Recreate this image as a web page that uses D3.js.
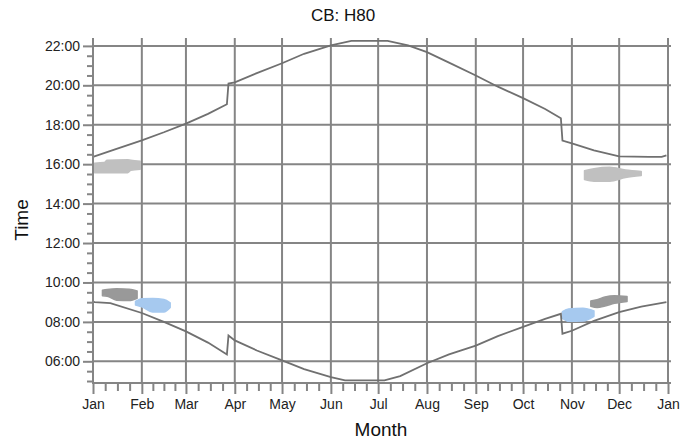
<!DOCTYPE html>
<html><head><meta charset="utf-8">
<script src="https://cdn.jsdelivr.net/npm/d3@7"></script>
<style>body{margin:0;background:#fff}svg{display:block;font-family:"Liberation Sans",Arial,sans-serif}</style>
</head><body><svg id="c" width="697" height="443"></svg>
<script>
// ---- data ----
const monthLabels = ["Jan","Feb","Mar","Apr","May","Jun","Jul","Aug","Sep","Oct","Nov","Dec","Jan"];
const yTickLabels = ["06:00","08:00","10:00","12:00","14:00","16:00","18:00","20:00","22:00"];
// sunset line (date MM-DD, time in hours)
const sunsetDates = ["01-01","01-15","02-01","02-15","03-01","03-15","03-27","03-28","04-01","04-15","05-01","05-15","06-01","06-14","07-07","07-20","08-01","08-15","09-01","09-15","10-01","10-15","10-25","10-26","11-01","11-15","12-01","12-20","12-28","12-31"];
const sunsetTimes = [16.37,16.75,17.21,17.62,18.06,18.55,19.04,20.09,20.15,20.62,21.12,21.6,22.03,22.25,22.25,22.02,21.68,21.15,20.5,19.93,19.35,18.8,18.33,17.2,17.06,16.7,16.4,16.37,16.37,16.45];
// sunrise line
const sunriseDates = ["01-01","01-02","01-12","02-01","02-15","03-01","03-15","03-27","03-28","04-01","04-15","05-01","05-15","06-01","06-10","07-05","07-15","08-01","08-15","09-01","09-15","10-01","10-15","10-25","10-26","11-01","11-15","12-01","12-15","12-31"];
const sunriseTimes = [9.05,9.0,8.95,8.45,8.0,7.52,6.95,6.35,7.31,7.06,6.55,6.05,5.6,5.2,5.03,5.03,5.25,5.9,6.35,6.8,7.28,7.75,8.15,8.41,7.4,7.55,8.05,8.5,8.78,9.0];
// blobs: date, top time, bottom time
const blobJanSunsetDates = ["01-02","01-08","01-10","01-23","01-25","01-31"];
const blobJanSunsetTop =   [16.05,16.08,16.2,16.22,16.2,16.15];
const blobJanSunsetBot =   [15.57,15.57,15.57,15.57,15.69,15.74];
const blobJanSunriseDates = ["01-07","01-10","01-16","01-24","01-29"];
const blobJanSunriseTop =   [9.6,9.64,9.68,9.66,9.57];
const blobJanSunriseBot =   [9.32,9.3,9.1,9.08,9.2];
const blobFebSunriseDates = ["01-28","02-01","02-08","02-15","02-19"];
const blobFebSunriseTop =   [9.04,9.17,9.18,9.13,8.97];
const blobFebSunriseBot =   [8.86,8.76,8.5,8.5,8.73];
const blobDecSunsetDates = ["11-09","11-15","11-25","12-05","12-15"];
const blobDecSunsetTop =   [15.67,15.77,15.84,15.7,15.63];
const blobDecSunsetBot =   [15.22,15.14,15.14,15.32,15.42];
const blobNovSunriseDates = ["10-26","10-30","11-08","11-15"];
const blobNovSunriseTop =   [8.52,8.66,8.69,8.56];
const blobNovSunriseBot =   [8.18,8.03,8.04,8.28];
const blobDecSunriseDates = ["11-13","11-17","11-22","11-28","12-06"];
const blobDecSunriseTop =   [9.06,9.13,9.26,9.32,9.29];
const blobDecSunriseBot =   [8.79,8.73,8.81,8.94,9.04];

// ---- chart ----
const svg = d3.select("#c");
const parse = s => new Date(2001, +s.slice(0,2)-1, +s.slice(3,5));
const x = d3.scaleTime().domain([new Date(2001,0,1), new Date(2002,0,1)]).range([93, 668]);
const y = d3.scaleLinear().domain([4.9, 22.4]).range([383, 38]);
const gridC = "#858585";

const months = d3.timeMonth.range(new Date(2001,0,1), new Date(2002,0,2));
const yMajors = d3.range(6, 23, 2);

// grid
svg.append("g").selectAll("line").data(months.slice(1)).join("line")
  .attr("x1", d=>x(d)).attr("x2", d=>x(d)).attr("y1", y(22.4)).attr("y2", y(4.9))
  .attr("stroke", gridC).attr("stroke-width", 2);
svg.append("g").selectAll("line").data(yMajors).join("line")
  .attr("x1", x.range()[0]).attr("x2", 671).attr("y1", d=>y(d)).attr("y2", d=>y(d))
  .attr("stroke", gridC).attr("stroke-width", 2);

// blobs
function blob(dates, top, bot, color){
  const data = dates.map((d,i)=>({d:parse(d), t:top[i], b:bot[i]}));
  svg.append("path").datum(data)
    .attr("d", d3.area().x(p=>x(p.d)).y0(p=>y(p.b)).y1(p=>y(p.t)).curve(d3.curveMonotoneX))
    .attr("fill", color).attr("stroke", color).attr("stroke-width", 1.5).attr("stroke-linejoin","round");
}
blob(blobJanSunsetDates, blobJanSunsetTop, blobJanSunsetBot, "#c0c0c0");
blob(blobDecSunsetDates, blobDecSunsetTop, blobDecSunsetBot, "#c0c0c0");
blob(blobJanSunriseDates, blobJanSunriseTop, blobJanSunriseBot, "#999999");
blob(blobDecSunriseDates, blobDecSunriseTop, blobDecSunriseBot, "#999999");
blob(blobFebSunriseDates, blobFebSunriseTop, blobFebSunriseBot, "#a6c9ef");
blob(blobNovSunriseDates, blobNovSunriseTop, blobNovSunriseBot, "#a6c9ef");

// lines
const line = d3.line().x(p=>x(p.d)).y(p=>y(p.t));
function drawLine(dates, times){
  svg.append("path").datum(dates.map((d,i)=>({d:parse(d), t:times[i]})))
    .attr("d", line).attr("fill","none").attr("stroke","#707070").attr("stroke-width",1.8);
}
drawLine(sunsetDates, sunsetTimes);
drawLine(sunriseDates, sunriseTimes);

// axes
const fmtMonth = d => monthLabels[d.getFullYear()===2002 ? 12 : d.getMonth()];
const minorX = [];
months.slice(0,12).forEach((m,i)=>{
  const n = months[i+1];
  for(let k=1;k<4;k++) minorX.push(new Date(+m + (n-m)*k/4));
});
const xAxis = svg.append("g").attr("transform","translate(0,383)")
  .call(d3.axisBottom(x).tickValues(minorX).tickSize(8).tickFormat(""));
const xMaj = svg.append("g").attr("transform","translate(0,383)")
  .call(d3.axisBottom(x).tickValues(months).tickSize(11).tickPadding(5).tickFormat(fmtMonth));
[xAxis, xMaj].forEach(g=>{
  g.select(".domain").attr("stroke", gridC).attr("stroke-width",2).attr("d","M"+(x.range()[0]-1)+",0H671");
  g.selectAll(".tick line").attr("stroke", gridC).attr("stroke-width",2);
  g.selectAll("text").attr("fill","#222").attr("font-size",14).attr("font-family","Liberation Sans, Arial, sans-serif");
});

const yAxisMinor = svg.append("g").attr("transform","translate(93,0)")
  .call(d3.axisLeft(y).tickValues(d3.range(5,22.4,0.5).filter(v=>v%2!==0)).tickSize(6).tickFormat(""));
const yAxis = svg.append("g").attr("transform","translate(93,0)")
  .call(d3.axisLeft(y).tickValues(yMajors).tickSize(10).tickPadding(3).tickFormat((d,i)=>yTickLabels[i]));
[yAxisMinor, yAxis].forEach(g=>{
  g.select(".domain").attr("stroke", gridC).attr("stroke-width",2).attr("d","M0,"+y(22.4)+"V"+y(4.9));
  g.selectAll(".tick line").attr("stroke", gridC).attr("stroke-width",2);
  g.selectAll("text").attr("fill","#222").attr("font-size",14).attr("font-family","Liberation Sans, Arial, sans-serif");
});

// titles
svg.append("text").attr("x",343).attr("y",21).attr("text-anchor","middle")
  .attr("font-size",17).attr("fill","#111").text("CB: H80");
svg.append("text").attr("x",381).attr("y",436).attr("text-anchor","middle")
  .attr("font-size",19).attr("fill","#111").text("Month");
svg.append("text").attr("transform","translate(28,220) rotate(-90)").attr("text-anchor","middle")
  .attr("font-size",19).attr("fill","#111").text("Time");
</script></body></html>
